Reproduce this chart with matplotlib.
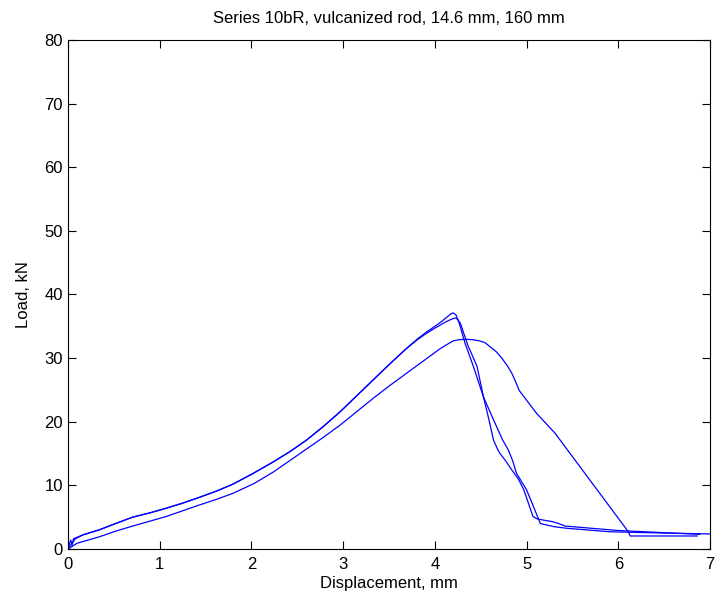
import numpy as np
import matplotlib.pyplot as plt

plt.rcParams['font.family'] = ['Liberation Sans', 'DejaVu Sans']

# Test run A (highest peak)
xa = [0, 0.08, 0.16, 0.34, 0.52, 0.705, 0.9, 1.07, 1.25, 1.43, 1.62, 1.80, 2.01,
      2.24, 2.42, 2.6, 2.78, 2.97, 3.15, 3.33, 3.51, 3.69, 3.81, 3.91, 4.0, 4.06,
      4.12, 4.17, 4.2, 4.23, 4.27, 4.33, 4.42, 4.53, 4.64, 4.74, 4.80, 4.85,
      4.89, 5.0, 5.08, 5.15, 5.3, 5.44, 5.91, 6.5, 7.05]
ya = [0, 1.6, 2.2, 3.0, 4.0, 5.0, 5.7, 6.4, 7.2, 8.1, 9.1, 10.2, 11.8,
      13.7, 15.3, 17.1, 19.2, 21.6, 24.1, 26.6, 29.1, 31.5, 33.0, 34.1, 35.0, 35.6,
      36.3, 36.9, 37.1, 36.8, 35.3, 32.3, 28.7, 23.9, 20.3, 17.1, 15.6, 13.8,
      11.9, 9.3, 6.5, 4.0, 3.5, 3.25, 2.7, 2.5, 2.35]

# Test run B
xb = [0, 0.03, 0.045, 0.06, 0.16, 0.34, 0.52, 0.705, 0.9, 1.07, 1.25, 1.43, 1.62,
      1.80, 2.01, 2.24, 2.42, 2.6, 2.78, 2.97, 3.15, 3.33, 3.51, 3.69, 3.81,
      3.91, 4.0, 4.06, 4.12, 4.18, 4.22, 4.25, 4.28, 4.36, 4.46, 4.53, 4.59,
      4.64, 4.68, 4.71, 4.77, 4.84, 4.91, 4.97, 5.07, 5.12, 5.2, 5.28, 5.35, 5.42,
      6.0, 6.89]
yb = [0, 1.4, 0.6, 1.6, 2.2, 3.0, 4.0, 5.0, 5.7, 6.4, 7.2, 8.1, 9.1,
      10.2, 11.8, 13.7, 15.3, 17.1, 19.2, 21.6, 24.1, 26.6, 29.1, 31.5, 32.9,
      33.9, 34.7, 35.2, 35.7, 36.1, 36.3, 36.1, 35.4, 32.0, 28.7, 23.9, 20.3,
      17.1, 15.8, 15.0, 13.9, 12.4, 11.0, 9.3, 5.1, 4.7, 4.5, 4.3, 4.0, 3.6,
      2.9, 2.3]

# Test run C (lower curve)
xc = [0, 0.1, 0.34, 0.52, 0.705, 0.9, 1.07, 1.25, 1.43, 1.62, 1.80, 2.03, 2.24,
      2.42, 2.6, 2.78, 2.97, 3.15, 3.33, 3.51, 3.69, 3.88, 4.06, 4.14, 4.2,
      4.27, 4.33, 4.41, 4.49, 4.55, 4.6, 4.67, 4.73, 4.79, 4.84, 4.88, 4.92,
      5.11, 5.31, 6.11, 6.13, 6.86]
yc = [0, 0.9, 1.9, 2.8, 3.6, 4.4, 5.1, 6.0, 6.9, 7.8, 8.75, 10.3, 12.1,
      13.9, 15.7, 17.5, 19.5, 21.6, 23.7, 25.7, 27.6, 29.6, 31.5, 32.2, 32.7,
      32.9, 32.95, 32.9, 32.7, 32.4, 31.8, 31.0, 30.0, 28.8, 27.6, 26.3, 24.9,
      21.3, 18.2, 2.7, 2.04, 2.04]

fig = plt.figure(figsize=(7.2, 6.07), dpi=100)
ax = fig.add_axes([0.0944, 0.0956, 0.8917, 0.8386])

for x, y in [(xa, ya), (xb, yb), (xc, yc)]:
    ax.plot(x, y, color='blue', linewidth=0.9)

ax.set_xlim(0, 7)
ax.set_ylim(0, 80)
ax.set_xticks(range(0, 8))
ax.set_yticks(range(0, 81, 10))
ax.tick_params(direction='in', top=True, right=True, length=6, labelsize=12)
ax.tick_params(axis='x', pad=6)
for s in ax.spines.values():
    s.set_linewidth(0.8)

ax.set_xlabel('Displacement, mm', fontsize=12, labelpad=3)
ax.set_ylabel('Load, kN', fontsize=12, labelpad=10)
ax.set_title('Series 10bR, vulcanized rod, 14.6 mm, 160 mm', fontsize=12, pad=12)

fig.savefig('out.png', dpi=100)
